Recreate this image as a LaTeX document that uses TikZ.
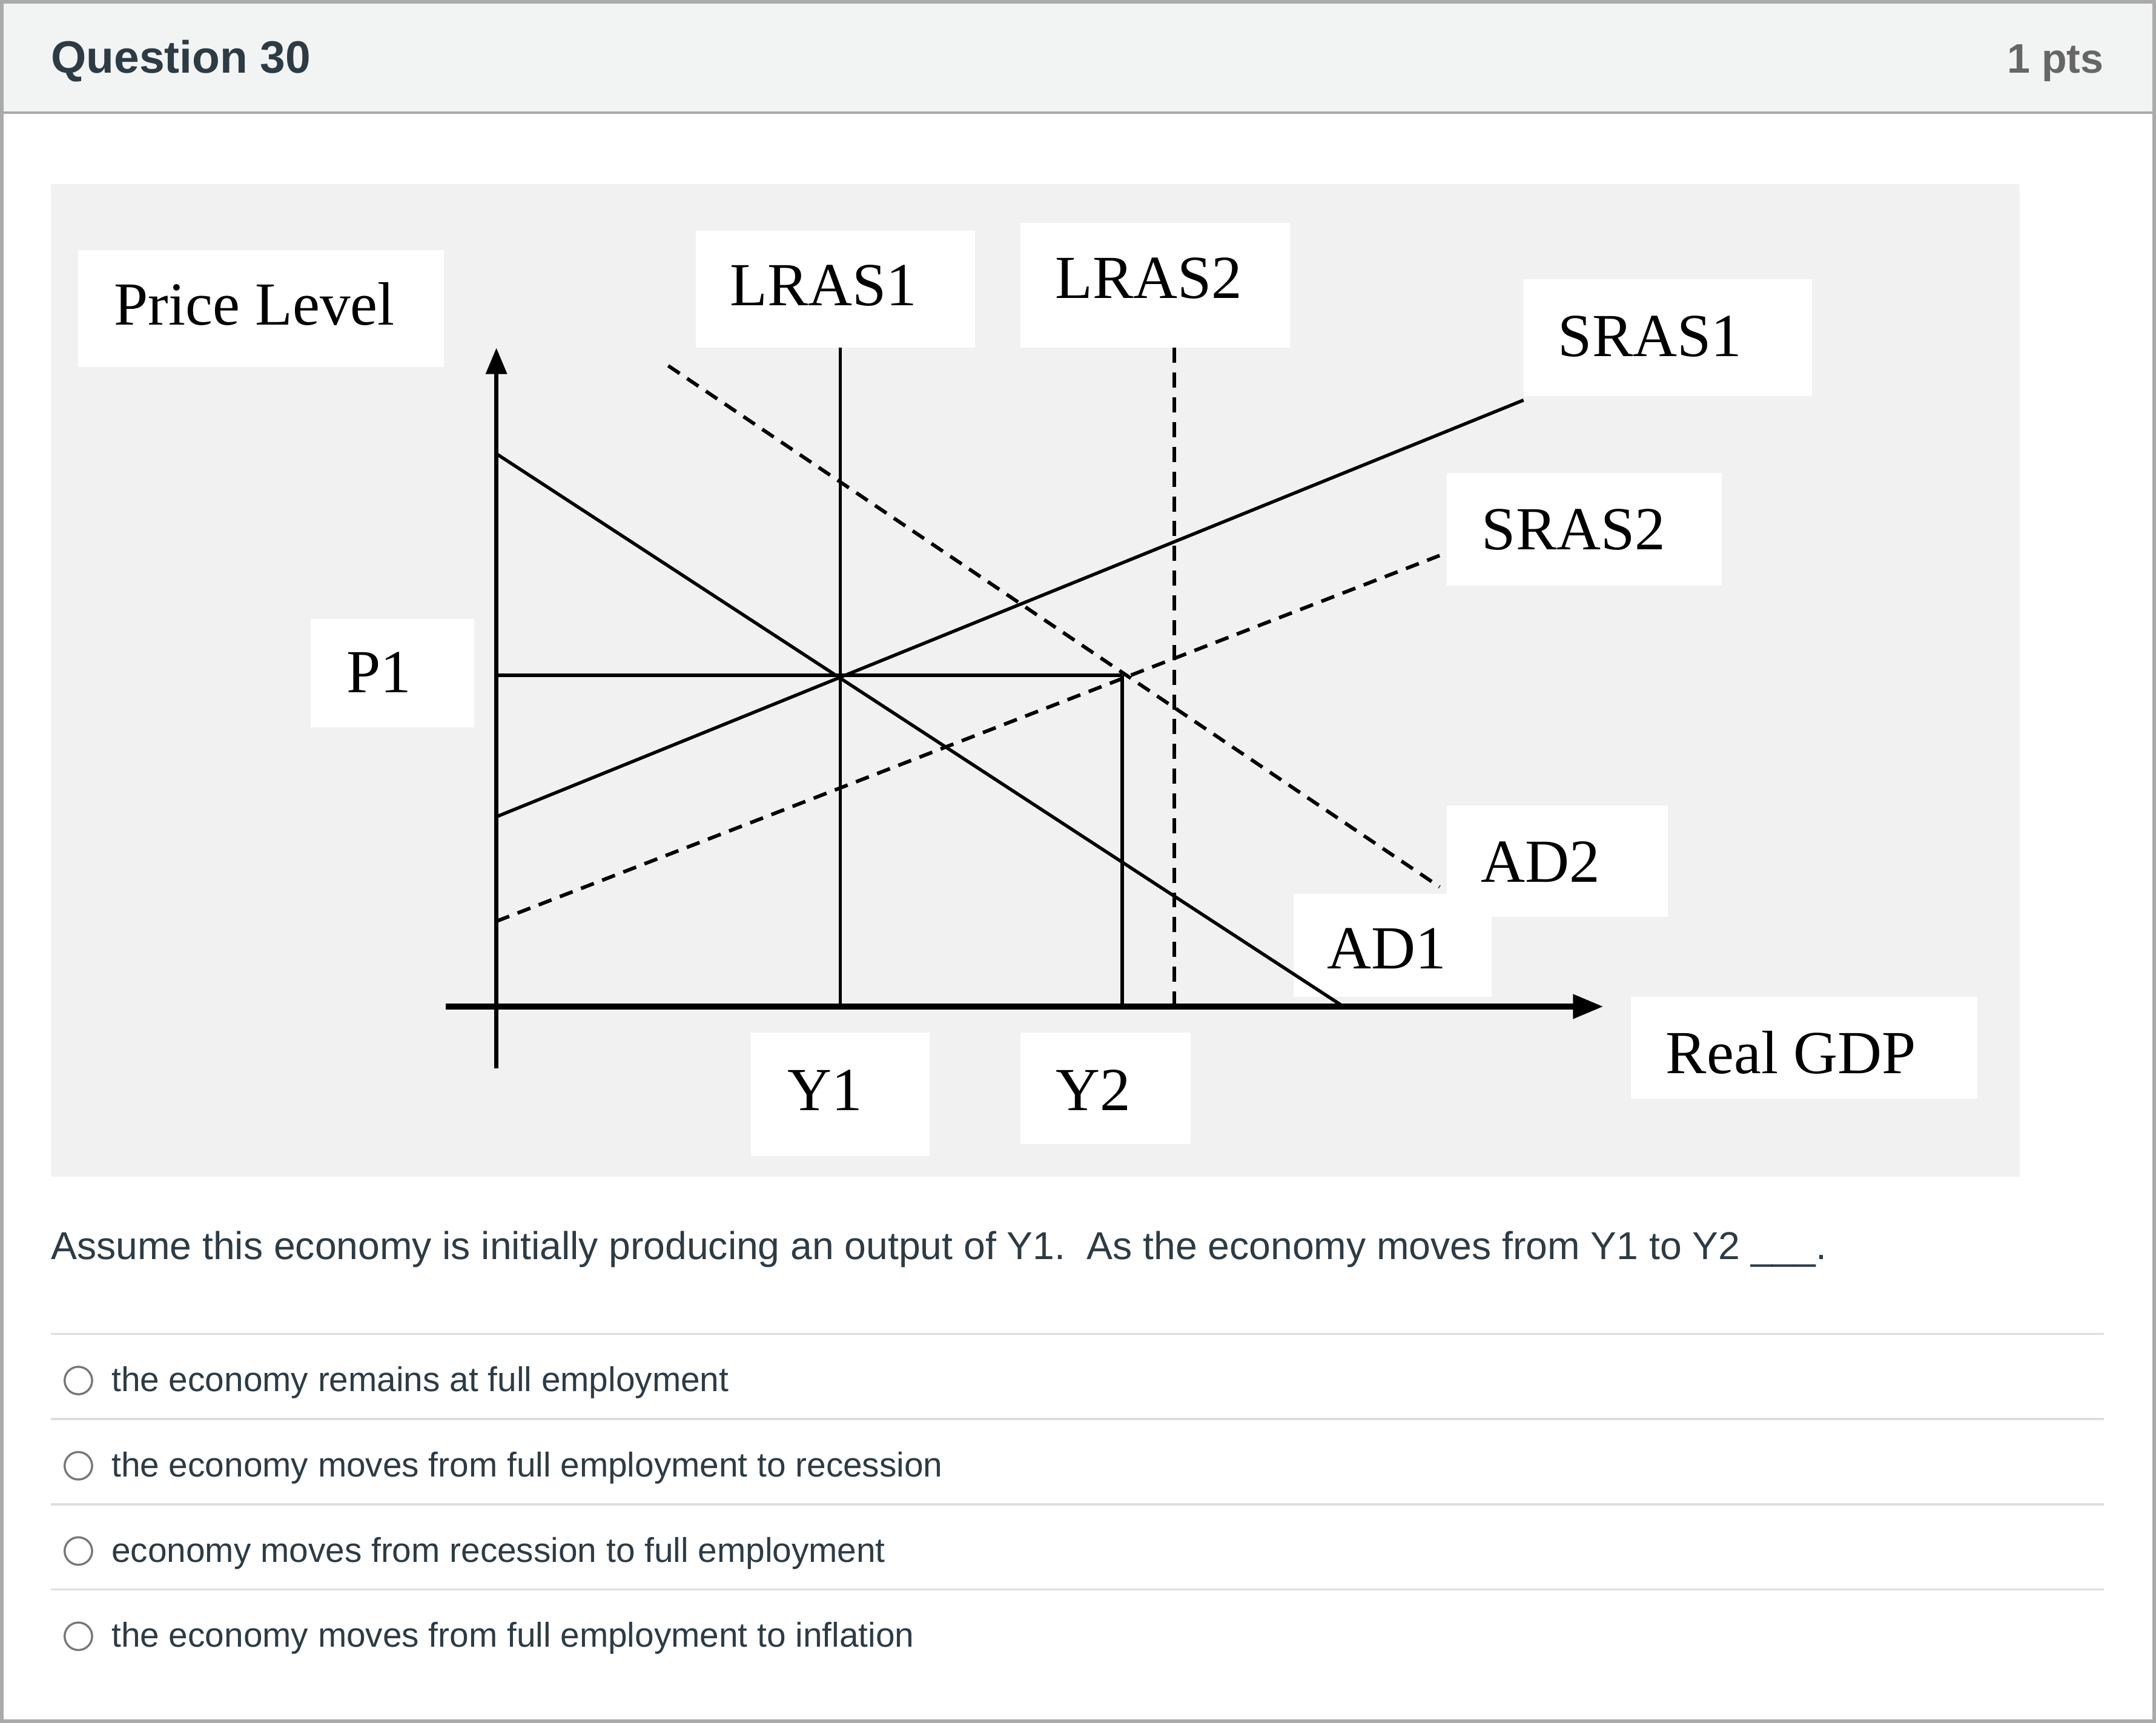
\documentclass[tikz,border=0pt]{standalone}
\usepackage{fontspec}
\setmainfont{Liberation Serif}
\newfontfamily\uisans{Liberation Sans}
\usetikzlibrary{arrows.meta}
\definecolor{hdrbg}{HTML}{F2F3F3}
\definecolor{framegray}{HTML}{AAAAAA}
\definecolor{graphbg}{HTML}{F1F1F1}
\definecolor{sepgray}{HTML}{DDDDDD}
\definecolor{qtext}{HTML}{2D3B45}
\definecolor{ptsgray}{HTML}{666666}
\definecolor{radiogray}{HTML}{777777}
\begin{document}
\begin{tikzpicture}[x=1pt,y=-1pt,
  lblbox/.style={fill=white, inner sep=0pt},
  lbltext/.style={inner sep=0pt, font=\fontsize{44.5}{44.5}\selectfont},
  solidln/.style={line width=2.4pt},
  dashln/.style={line width=2.6pt, dash pattern=on 10pt off 6.5pt},
  vdashln/.style={line width=2.6pt, dash pattern=on 11pt off 7pt},
  optline/.style={draw=sepgray, line width=1.5pt},
  radio/.style={circle, draw=radiogray, line width=1.5pt, minimum size=20pt, inner sep=0pt, fill=white},
  opttext/.style={anchor=base west, inner sep=0pt, font=\uisans\fontsize{25}{25}\selectfont, text=qtext}]
\useasboundingbox (0,0) rectangle (1568,1253);
\fill[white] (0,0) rectangle (1568,1253);
% header
\fill[hdrbg] (0,0) rectangle (1568,82);
\draw[framegray, line width=2pt] (0,82) -- (1568,82);
\node[anchor=base west, inner sep=0pt, font=\uisans\bfseries\fontsize{33}{33}\selectfont, text=qtext] (qtitle) at (37,53) {Question 30};
\node[anchor=base east, inner sep=0pt, font=\uisans\bfseries\fontsize{30}{30}\selectfont, text=ptsgray] (pts) at (1530,53) {1 pts};
% graph background
\fill[graphbg] (37,134) rectangle (1469,856);
% label boxes
\node[lblbox, minimum width=266pt, minimum height=85pt] (pl) at (190,224.5) {};
\node[lblbox, minimum width=203pt, minimum height=85pt] (lras1) at (607.5,210.5) {};
\node[lblbox, minimum width=196pt, minimum height=91pt] (lras2) at (840,207.5) {};
\node[lblbox, minimum width=210pt, minimum height=85pt] (sras1) at (1213,245.5) {};
\node[lblbox, minimum width=200pt, minimum height=82pt] (sras2) at (1152,385) {};
\node[lblbox, minimum width=119pt, minimum height=79pt] (p1) at (285.5,489.5) {};
\node[lblbox, minimum width=161pt, minimum height=81pt] (ad2) at (1132.5,626.5) {};
\node[lblbox, minimum width=144pt, minimum height=75pt] (ad1) at (1013,687.5) {};
\node[lblbox, minimum width=130pt, minimum height=90pt] (y1) at (611,796) {};
\node[lblbox, minimum width=124pt, minimum height=81pt] (y2) at (804,791.5) {};
\node[lblbox, minimum width=252pt, minimum height=74pt] (rgdp) at (1312,762) {};
% label texts
\node[lbltext] (plt) at (185,221) {Price Level};
\node[lbltext] (lras1t) at (599,207.5) {LRAS1};
\node[lbltext] (lras2t) at (835.5,202.5) {LRAS2};
\node[lbltext] (sras1t) at (1200,244.5) {SRAS1};
\node[lbltext] (sras2t) at (1144.5,385) {SRAS2};
\node[lbltext] (p1t) at (275.5,489) {P1};
\node[lbltext] (ad2t) at (1120.5,627) {AD2};
\node[lbltext] (ad1t) at (1008.5,690) {AD1};
\node[lbltext] (y1t) at (600,793) {Y1};
\node[lbltext] (y2t) at (795,793) {Y2};
\node[lbltext] (rgdpt) at (1302.5,765.5) {Real GDP};
% coordinates
\coordinate (vbot) at (361,777);
\coordinate (vtop) at (361,253);
\coordinate (hleft) at (324,732);
\coordinate (hright) at (1166,732);
\coordinate (l1top) at (611,253);
\coordinate (l1bot) at (611,732);
\coordinate (l2top) at (854,253);
\coordinate (l2bot) at (854,732);
\coordinate (y2top) at (816,491);
\coordinate (y2bot) at (816,732);
\coordinate (p1left) at (361,491);
\coordinate (ad1a) at (361,330);
\coordinate (ad1b) at (977,732);
\coordinate (ad2a) at (486,266);
\coordinate (ad2b) at (1047,645);
\coordinate (s1a) at (361,594);
\coordinate (s1b) at (1108,291);
\coordinate (s2a) at (361,670);
\coordinate (s2b) at (1047,404);
% axes
\draw[line width=2.8pt, -{Triangle[length=19pt,width=15pt]}] (vbot) -- (vtop);
\draw[line width=4pt, -{Triangle[length=22pt,width=17pt]}] (hleft) -- (hright);
% curves
\draw[solidln] (l1top) -- (l1bot);
\draw[vdashln] (l2top) -- (l2bot);
\draw[line width=2.8pt] (y2top) -- (y2bot);
\draw[line width=2.8pt] (p1left) -- (y2top);
\draw[solidln] (ad1a) -- (ad1b);
\draw[dashln] (ad2a) -- (ad2b);
\draw[solidln] (s1a) -- (s1b);
\draw[dashln] (s2a) -- (s2b);
% question
\node[anchor=base west, inner sep=0pt, font=\uisans\fontsize{28.3}{28.3}\selectfont, text=qtext] (question) at (37,916) {Assume this economy is initially producing an output of Y1.\ \ As the economy moves from Y1 to Y2 \_\_\_.};
% separators
\coordinate (s0l) at (37,970); \coordinate (s0r) at (1530,970);
\coordinate (s1l) at (37,1032); \coordinate (s1r) at (1530,1032);
\coordinate (s2l) at (37,1094); \coordinate (s2r) at (1530,1094);
\coordinate (s3l) at (37,1156); \coordinate (s3r) at (1530,1156);
\draw[optline] (s0l) -- (s0r);
\draw[optline] (s1l) -- (s1r);
\draw[optline] (s2l) -- (s2r);
\draw[optline] (s3l) -- (s3r);
% options
\node[radio] (r1) at (57,1004) {};
\node[radio] (r2) at (57,1066) {};
\node[radio] (r3) at (57,1128) {};
\node[radio] (r4) at (57,1190) {};
\node[opttext] (o1) at (81,1012) {the economy remains at full employment};
\node[opttext] (o2) at (81,1074) {the economy moves from full employment to recession};
\node[opttext] (o3) at (81,1136) {economy moves from recession to full employment};
\node[opttext] (o4) at (81,1198) {the economy moves from full employment to inflation};
% frame
\draw[framegray, line width=2.5pt] (1.25,1.25) rectangle (1566.75,1251.75);
\end{tikzpicture}
\end{document}
